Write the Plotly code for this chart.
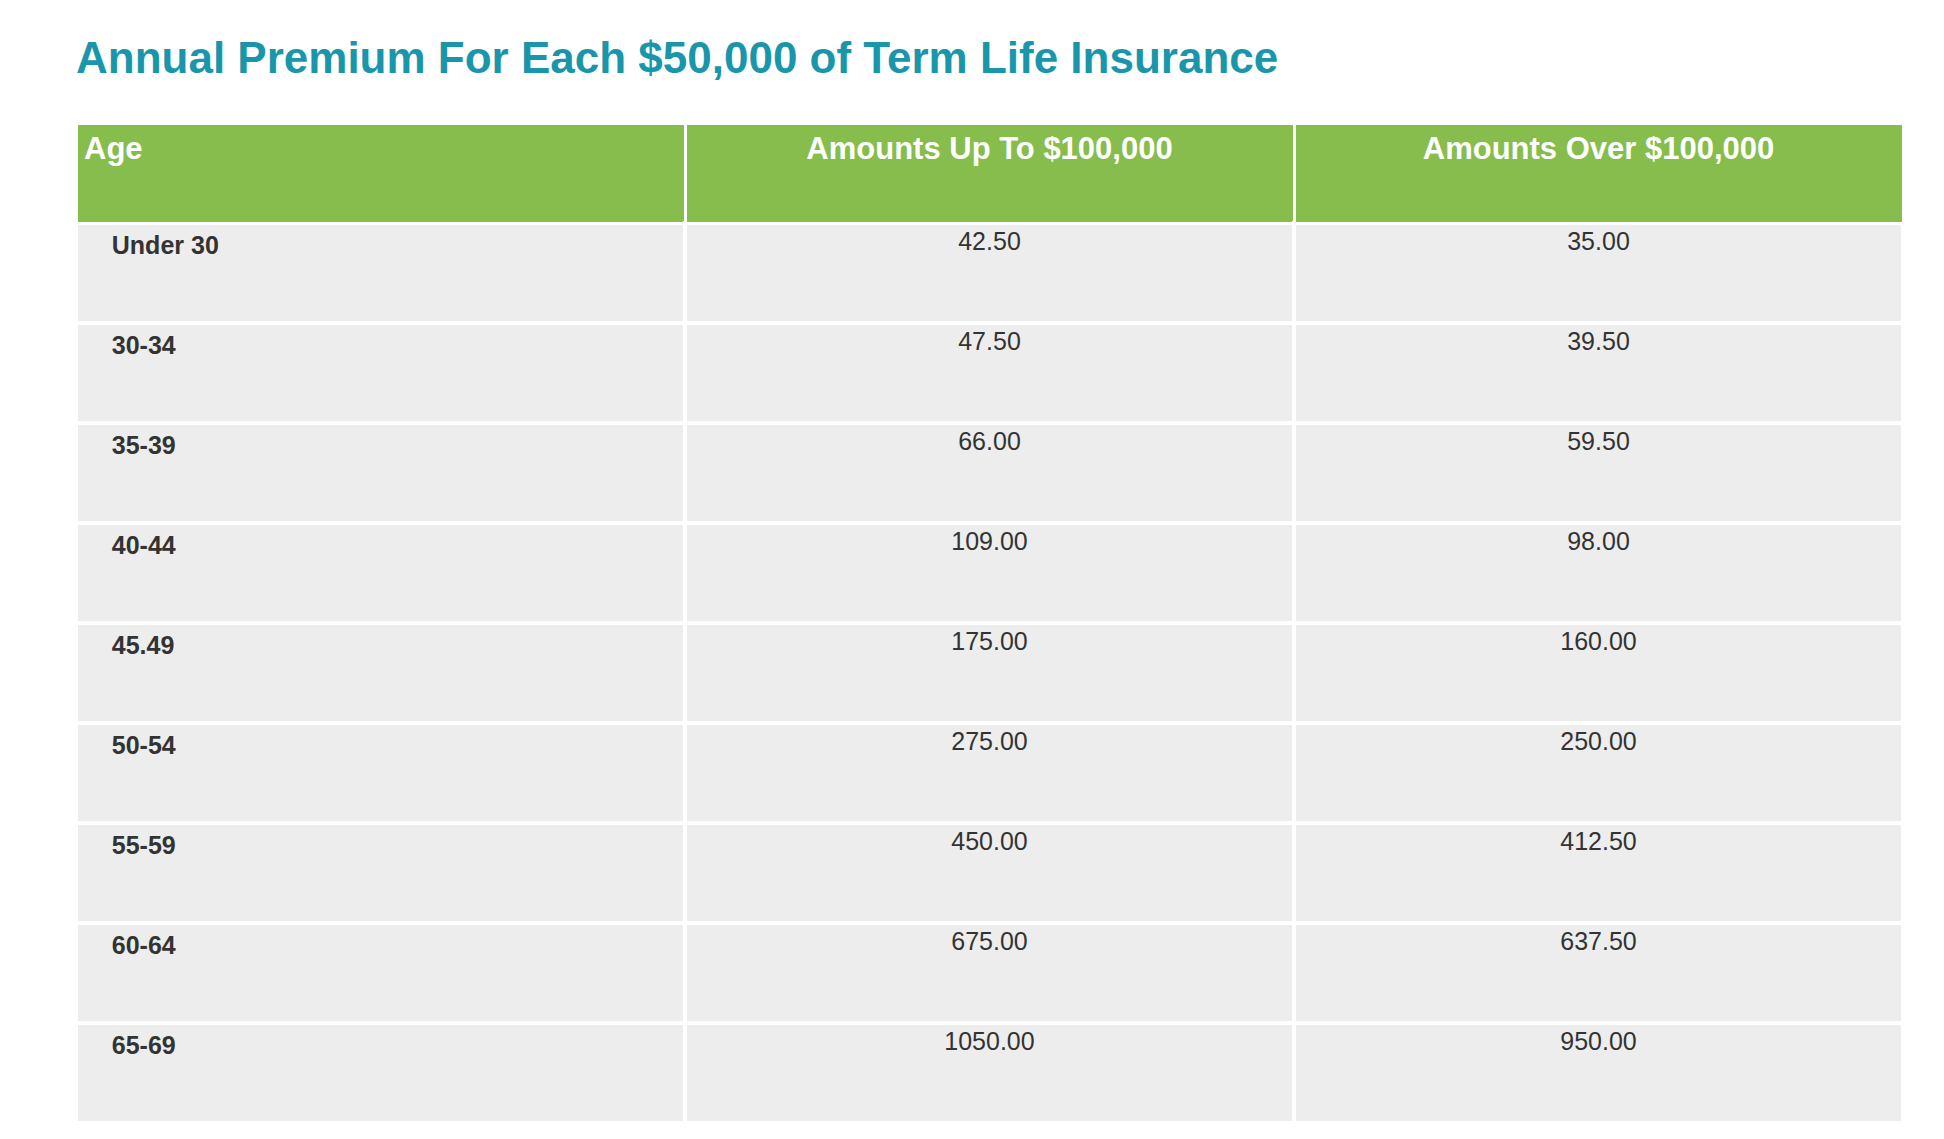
import plotly.graph_objects as go

TITLE = "Annual Premium For Each $50,000 of Term Life Insurance"
header_labels = ["Age", "Amounts Up To $100,000", "Amounts Over $100,000"]
ages = ["Under 30", "30-34", "35-39", "40-44", "45.49", "50-54", "55-59", "60-64", "65-69"]
up_to_100k = ["42.50", "47.50", "66.00", "109.00", "175.00", "275.00", "450.00", "675.00", "1050.00"]
over_100k = ["35.00", "39.50", "59.50", "98.00", "160.00", "250.00", "412.50", "637.50", "950.00"]

W, H = 1944, 1139
pad = "\u00a0" * 4

fig = go.Figure(go.Table(
    domain=dict(x=[68 / W, 1895 / W], y=[0.0, 1 - 115 / H]),
    columnwidth=[1, 1, 1],
    header=dict(
        values=[f"<b>{h}</b>" for h in header_labels],
        fill_color="#86bd4c",
        line=dict(color="white", width=3),
        align=["left", "center", "center"],
        font=dict(family="Liberation Sans, Arial", size=31, color="white"),
        height=100,
    ),
    cells=dict(
        values=[[f"{pad}<b>{a}</b>" for a in ages], up_to_100k, over_100k],
        fill_color="#ededed",
        line=dict(color="white", width=4),
        align=["left", "center", "center"],
        font=dict(family="Liberation Sans, Arial", size=25, color="#333333"),
        height=100,
    ),
))

fig.update_layout(
    width=W, height=H,
    margin=dict(l=0, r=0, t=0, b=0),
    paper_bgcolor="white",
    title=dict(text=f"<b>{TITLE}</b>", x=68 / W, xanchor="left", y=1 - 50 / H, yanchor="middle",
               font=dict(family="Liberation Sans, Arial", size=44, color="#1a96aa")),
)

fig.write_html("out.html")
